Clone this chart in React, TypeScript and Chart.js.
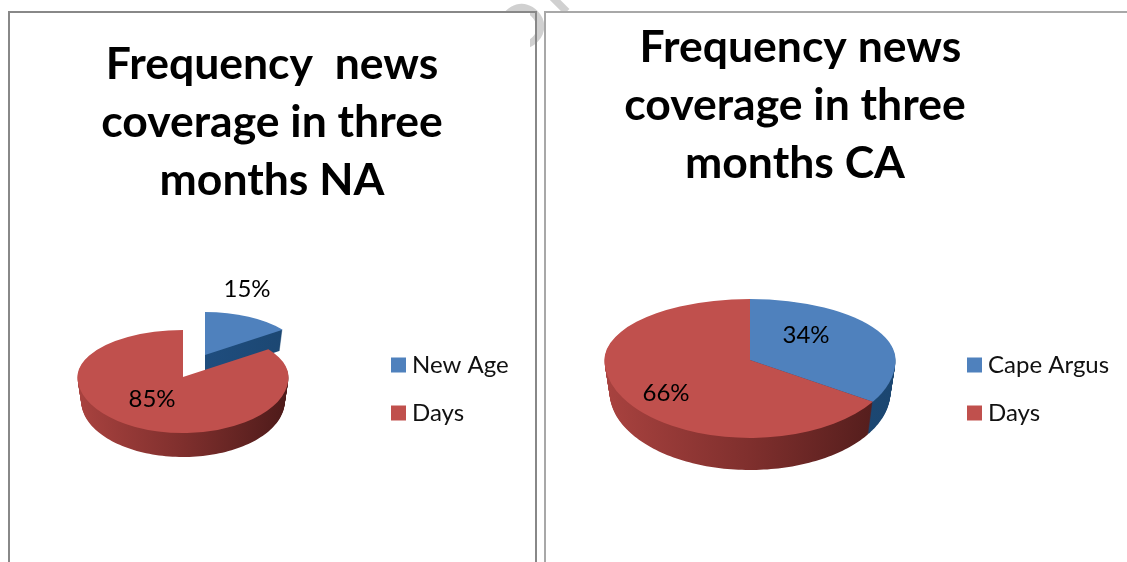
import React, { useEffect, useRef } from "react";
import { Chart, registerables } from "chart.js";

Chart.register(...registerables);

const FONT = "Lato";
const COLORS = ["#4f81bd", "#c0504d"];

const titleNA = ["Frequency  news", "coverage in three", "months NA"];
const labelsNA = ["New Age", "Days"];
const valuesNA = [15, 85];

const titleCA = [" Frequency news", "coverage in three", "months CA"];
const labelsCA = ["Cape Argus", "Days"];
const valuesCA = [34, 66];

type Geo = { cx: number; cy: number; rx: number; ryT: number; ryB: number; depth: number };

const pieEllipse = {
  id: "pieEllipse",
  afterLayout(chart: any, _a: any, o: any) {
    const t = chart.titleBlock;
    if (t) {
      t.left = o.titleCx - 300;
      t.right = o.titleCx + 300;
    }
    const l = chart.legend;
    if (l) {
      l.left = o.legendLeft;
      l.top = 216;
      l.bottom = 562;
    }
  },
  beforeDatasetDraw(chart: any, args: any, o: any) {
    const ctx = chart.ctx;
    const meta = chart.getDatasetMeta(args.index);
    meta.data.forEach((el: any, i: number) => {
      const g: Geo = o.geo[i];
      const wall = o.wall[i];
      for (let d = g.depth; d >= 1; d--) {
        const k = 1 - 0.035 * (d / g.depth);
        const rx = g.rx * k;
        const grad = ctx.createLinearGradient(g.cx - rx, 0, g.cx + rx, 0);
        wall.forEach((c: string, j: number) => grad.addColorStop(j / (wall.length - 1), c));
        ctx.fillStyle = grad;
        ctx.beginPath();
        ctx.moveTo(g.cx, g.cy + d);
        const n = 160;
        for (let s = 0; s <= n; s++) {
          const a = el.startAngle + ((el.endAngle - el.startAngle) * s) / n;
          const sn = Math.sin(a);
          ctx.lineTo(g.cx + rx * Math.cos(a), g.cy + d + (sn < 0 ? g.ryT : g.ryB) * sn);
        }
        ctx.closePath();
        ctx.fill();
      }
      const R = el.outerRadius;
      const half = (y0: number, y1: number, ry: number) => {
        ctx.save();
        ctx.beginPath();
        ctx.rect(0, y0, chart.width, y1 - y0);
        ctx.clip();
        ctx.translate(g.cx, g.cy);
        ctx.scale(g.rx / R, ry / R);
        ctx.translate(-el.x, -el.y);
        el.draw(ctx);
        ctx.restore();
      };
      half(0, g.cy, g.ryT);
      half(g.cy, chart.height, g.ryB);
    });
    return false;
  },
  afterDraw(chart: any, _a: any, o: any) {
    const ctx = chart.ctx;
    const values = chart.data.datasets[0].data;
    ctx.save();
    ctx.fillStyle = "#000";
    ctx.font = `${o.labelSize}px ${FONT}`;
    ctx.textAlign = "center";
    ctx.textBaseline = "middle";
    values.forEach((v: number, i: number) => {
      ctx.fillText(`${v}%`, o.labelPos[i][0], o.labelPos[i][1]);
    });
    ctx.restore();
  },
};

function Pie(props: {
  left: number;
  width: number;
  title: string[];
  labels: string[];
  values: number[];
  opts: any;
}) {
  const ref = useRef<HTMLCanvasElement | null>(null);
  useEffect(() => {
    const { title, labels, values, opts } = props;
    const chart = new Chart(ref.current as HTMLCanvasElement, {
      type: "pie",
      data: {
        labels,
        datasets: [{ data: values, backgroundColor: COLORS, borderWidth: 0 }],
      },
      plugins: [pieEllipse],
      options: {
        animation: false,
        responsive: false,
        layout: { padding: 0 },
        plugins: {
          tooltip: { enabled: false },
          title: {
            display: true,
            text: title,
            color: "#000",
            font: { family: FONT, size: opts.titleSize, weight: "bold", lineHeight: opts.titleLine },
            padding: { top: opts.titleTop, bottom: 10 },
          },
          legend: {
            position: "right",
            labels: {
              usePointStyle: true,
              pointStyle: "rect",
              boxWidth: 3,
              boxHeight: 15,
              padding: 24,
              color: "#111",
              font: { family: FONT, size: 24 },
            },
          },
          pieEllipse: opts,
        },
      } as any,
    });
    return () => chart.destroy();
  }, []);
  return (
    <canvas
      ref={ref}
      width={props.width}
      height={562}
      style={{ position: "absolute", left: props.left, top: 0, width: props.width, height: 562 }}
    />
  );
}

const WALL_BLUE = ["#2a5a8e", "#1f4d7e", "#1b4670"];
const WALL_RED = ["#a8423f", "#7f2f2d", "#4e1b1a"];

const optsNA = {
  titleCx: 272,
  titleSize: 44.5,
  titleLine: 1.303,
  titleTop: 36,
  legendLeft: 373,
  labelSize: 24,
  labelPos: [[247, 289], [152, 399]],
  wall: [WALL_BLUE, WALL_RED],
  geo: [
    { cx: 205, cy: 355, rx: 96, ryT: 43, ryB: 50, depth: 21 },
    { cx: 183, cy: 377, rx: 105.5, ryT: 47, ryB: 56, depth: 24 },
  ],
};

const optsCA = {
  titleCx: 795 - 540,
  titleSize: 44.5,
  titleLine: 1.303,
  titleTop: 19,
  legendLeft: 949 - 540,
  labelSize: 24,
  labelPos: [[806 - 540, 335], [666 - 540, 393]],
  wall: [WALL_BLUE, WALL_RED],
  geo: [
    { cx: 750 - 540, cy: 360, rx: 145.5, ryT: 61, ryB: 78, depth: 32 },
    { cx: 750 - 540, cy: 360, rx: 145.5, ryT: 61, ryB: 78, depth: 32 },
  ],
};

export default function App() {
  return (
    <div style={{ position: "fixed", left: 0, top: 0, width: 1127, height: 562, overflow: "hidden", background: "#fff" }}>
      <div
        style={{
          position: "absolute", left: 0, top: 0, width: 1127, height: 562,
          clipPath: "polygon(0px 0px, 1127px 0px, 1127px 12px, 546px 12px, 546px 55px, 530px 55px, 530px 12px, 0px 12px)",
        }}
      >
        <div
          style={{
            position: "absolute", left: 498, top: -5, fontFamily: FONT, fontSize: 60, fontWeight: "bold", color: "#d0d0d0",
            transform: "rotate(-45deg)", transformOrigin: "24px 32px", lineHeight: 1, letterSpacing: 11, whiteSpace: "nowrap",
          }}
        >
          Ol
        </div>
      </div>
      <div style={{ position: "absolute", left: 8, top: 11, width: 525, height: 560, border: "2px solid #888" }} />
      <div style={{ position: "absolute", left: 544, top: 11, width: 600, height: 560, border: "2px solid #a8a8a8" }} />
      <Pie left={0} width={540} title={titleNA} labels={labelsNA} values={valuesNA} opts={optsNA} />
      <Pie left={540} width={587} title={titleCA} labels={labelsCA} values={valuesCA} opts={optsCA} />
    </div>
  );
}
